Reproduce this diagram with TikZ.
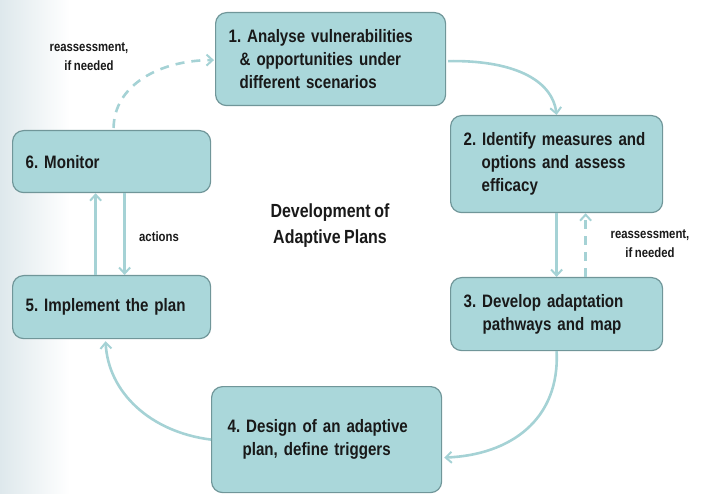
\documentclass[tikz,border=0pt]{standalone}
\usepackage{fontspec}
\setmainfont[FakeStretch=0.84,WordSpace=0.8]{Liberation Sans}
\usetikzlibrary{arrows.meta,calc}
\definecolor{boxfill}{RGB}{170,215,218}
\definecolor{boxline}{RGB}{112,150,153}
\definecolor{arrowc}{RGB}{165,210,213}
\definecolor{txt}{RGB}{25,25,25}
\definecolor{bgleft}{RGB}{222,232,236}
\tikzset{
  stepbox/.style={draw=boxline, line width=1.2pt, fill=boxfill, rounded corners=11pt,
    anchor=north west, inner xsep=13pt, inner ysep=4pt, align=left, text=txt,
    font=\frenchspacing\bfseries\fontsize{18}{23}\selectfont},
  flow/.style={draw=arrowc, line width=2.6pt, -{Straight Barb[length=6pt,width=11pt,line width=2pt]}},
  flowdash/.style={flow, dash pattern=on 9pt off 7pt},
  lbl/.style={align=center, text=txt, font=\frenchspacing\bfseries\fontsize{13.5}{19}\selectfont},
}
\begin{document}
\begin{tikzpicture}[x=1pt,y=-1pt]
\useasboundingbox (0,0) rectangle (712,494);
\shade[left color=bgleft, right color=white] (0,0) rectangle (70,494);
% boxes
\node[stepbox, text width=204pt, minimum height=93pt] (b1) at (215,12)
  {1. Analyse vulnerabilities\\\hspace*{11pt}\& opportunities under\\\hspace*{11pt}different scenarios};
\node[stepbox, text width=186pt, minimum height=97pt] (b2) at (450,115)
  {2. Identify measures and\\\hspace*{18pt}options and assess\\\hspace*{18pt}efficacy};
\node[stepbox, text width=186pt, minimum height=73pt] (b3) at (450,277)
  {3. Develop adaptation\\\hspace*{19pt}pathways and map};
\node[stepbox, text width=198pt, minimum height=106pt, inner xsep=16pt] (b4) at (211,386)
  {4. Design of an adaptive\\\hspace*{15pt}plan, define triggers};
\node[stepbox, text width=172pt, minimum height=63pt] (b5) at (12,275)
  {5. Implement the plan};
\node[stepbox, text width=172pt, minimum height=62pt] (b6) at (12,130)
  {6. Monitor};
% centre title
\node[align=center, text=txt, font=\bfseries\fontsize{19}{26}\selectfont] (title) at (330,226)
  {Development of\\Adaptive Plans};
% arrows
\draw[flow] ($(b1.east)+(2,2)$) .. controls (510,60) and (552,78) .. (b2.north);
\draw[flow] (b2.south) -- (b3.north);
\draw[flowdash] ($(b3.north)+(29,0)$) -- ($(b2.south)+(29,0)$);
\draw[flow] (b3.south) .. controls (560,420) and (510,455) .. ($(b4.east)+(2,18)$);
\draw[flow] (b4.west) .. controls (150,432) and (108,392) .. ($(b5.south)+(-6,2)$);
\draw[flow] ($(b5.north)+(-16,0)$) -- ($(b6.south)+(-16,0)$);
\draw[flow] ($(b6.south)+(13,0)$) -- ($(b5.north)+(13,0)$);
\draw[flowdash] ($(b6.north)+(2,-2)$) .. controls (114,85) and (160,60) .. ($(b1.west)+(-1,1)$);
% labels
\node[lbl] (r1) at (89,57) {reassessment,\\if needed};
\node[lbl] (r2) at (650,244) {reassessment,\\if needed};
\node[lbl] (act) at (159,237) {actions};
\end{tikzpicture}
\end{document}
